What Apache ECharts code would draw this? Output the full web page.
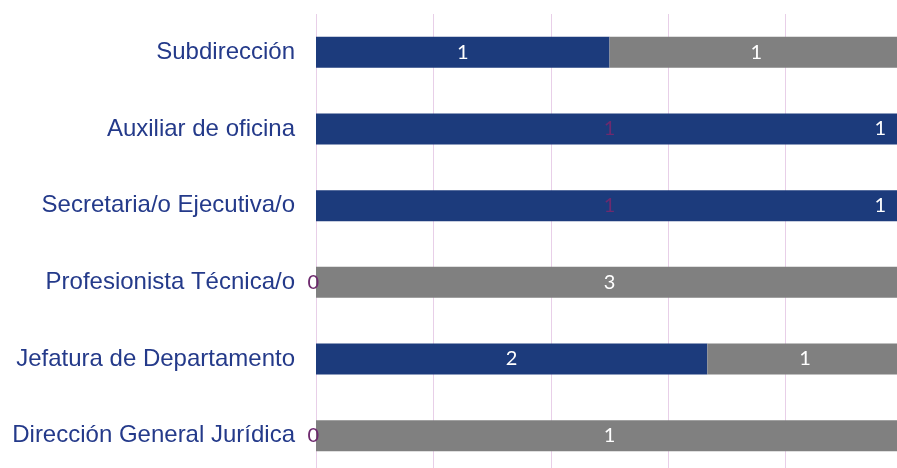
<!DOCTYPE html>
<html>
<head>
<meta charset="utf-8">
<script src="https://cdn.jsdelivr.net/npm/echarts@6/dist/echarts.min.js"></script>
<style>
  html, body { margin: 0; padding: 0; background: #fff; }
  #chart { width: 897px; height: 468px; }
</style>
</head>
<body>
<div id="chart"></div>
<script>
// categories top to bottom
const categories = [
  'Subdirección',
  'Auxiliar de oficina',
  'Secretaria/o Ejecutiva/o',
  'Profesionista Técnica/o',
  'Jefatura de Departamento',
  'Dirección General Jurídica'
]
const blueValues = [1, 1, 1, 0, 2, 0]
const greyValues = [1, 0, 0, 3, 1, 1]
// text shown at the right end of the rows with no grey part
const endLabels = ['', '1', '1', '', '', '']

const blue = '#1c3b7c'
const grey = '#808080'
const purple = '#6e2a6e'

const totals = blueValues.map((v, i) => v + greyValues[i])

const blueData = blueValues.map((v, i) => {
  const item = { value: v / totals[i] * 100, raw: v }
  if (v === 0)
    item.label = { color: purple, position: 'left', distance: -3 }
  else if (greyValues[i] === 0)
    item.label = { color: purple }
  return item
})

const greyData = greyValues.map((v, i) => {
  const item = { value: v / totals[i] * 100, raw: v }
  if (v === 0)
    item.label = { position: 'left', distance: 17 }
  return item
})

const chart = echarts.init(document.getElementById('chart'))
chart.setOption({
  animation: false,
  grid: {
    left: 316,
    width: 587,
    top: 14,
    height: 460,
    containLabel: false,
    outerBoundsMode: 'none'
  },
  xAxis: {
    type: 'value',
    min: 0,
    max: 100,
    interval: 20,
    axisLabel: { show: false },
    axisLine: { show: false },
    axisTick: { show: false },
    splitLine: { show: true, lineStyle: { color: '#e8cfe8', width: 1 } }
  },
  yAxis: {
    type: 'category',
    data: categories,
    inverse: true,
    axisLine: { show: false },
    axisTick: { show: false },
    axisLabel: {
      color: '#243a8a',
      fontFamily: 'Liberation Sans, Arial, sans-serif',
      fontSize: 24,
      margin: 21
    }
  },
  series: [
    {
      name: 'blue',
      type: 'bar',
      stack: 'total',
      barWidth: 31,
      itemStyle: { color: blue },
      label: {
        show: true,
        position: 'inside',
        color: '#fff',
        fontFamily: 'Lato, sans-serif',
        fontSize: 20,
        formatter: p => String(p.data.raw)
      },
      data: blueData
    },
    {
      name: 'grey',
      type: 'bar',
      stack: 'total',
      barWidth: 31,
      itemStyle: { color: grey },
      label: {
        show: true,
        position: 'inside',
        color: '#fff',
        fontFamily: 'Lato, sans-serif',
        fontSize: 20,
        formatter: p => (p.data.raw === 0 ? endLabels[p.dataIndex] : String(p.data.raw))
      },
      data: greyData
    }
  ]
})
</script>
</body>
</html>
